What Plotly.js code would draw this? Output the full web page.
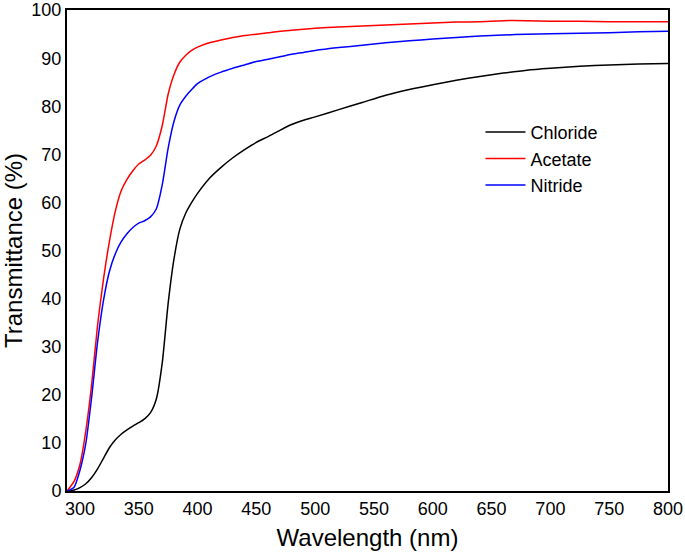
<!DOCTYPE html>
<html>
<head>
<meta charset="utf-8">
<script src="https://cdn.plot.ly/plotly-3.0.1.min.js"></script>
<style>html,body{margin:0;padding:0;background:#fff;}#chart{width:685px;height:552px;}</style>
</head>
<body>
<div id="chart"></div>
<script>
// Wavelength grid (nm)
const wavelength = [289, 295, 300, 305, 310, 315, 320, 325, 330, 335, 340, 345, 350, 355, 360, 365, 370, 375, 380, 385, 390, 395, 400, 410, 420, 430, 440, 450, 460, 470, 480, 490, 500, 520, 540, 560, 580, 600, 620, 640, 660, 680, 700, 725, 750, 775, 800];

// Transmittance (%)
const chloride = [0, 0.2, 0.7, 1.5, 2.8, 4.6, 6.8, 9.0, 10.6, 11.8, 12.7, 13.5, 14.2, 15.0, 16.3, 19.2, 26.7, 39.0, 48.3, 54.5, 57.8, 60.0, 61.9, 65.0, 67.3, 69.3, 71.0, 72.5, 73.7, 75.0, 76.2, 77.1, 77.8, 79.3, 80.8, 82.3, 83.5, 84.5, 85.4, 86.2, 86.9, 87.5, 87.9, 88.3, 88.6, 88.8, 88.9];
const acetate = [0, 2.0, 5.5, 12.5, 22.3, 34.5, 44.0, 51.8, 58.1, 62.4, 64.8, 66.6, 68.0, 68.8, 69.8, 71.8, 76.0, 82.5, 86.6, 89.2, 90.6, 91.6, 92.3, 93.2, 93.8, 94.3, 94.7, 95.0, 95.3, 95.6, 95.8, 96.0, 96.2, 96.5, 96.7, 96.9, 97.1, 97.3, 97.5, 97.6, 97.8, 97.8, 97.7, 97.7, 97.6, 97.6, 97.6];
const nitride = [0, 0.8, 4.3, 9.9, 19.6, 31.0, 39.6, 45.6, 49.3, 51.8, 53.5, 54.8, 55.7, 56.2, 57.0, 58.7, 63.7, 71.3, 76.9, 80.3, 82.1, 83.5, 84.7, 86.1, 87.1, 87.9, 88.6, 89.3, 89.8, 90.3, 90.8, 91.2, 91.6, 92.2, 92.7, 93.2, 93.6, 94.0, 94.3, 94.6, 94.8, 95.0, 95.1, 95.2, 95.3, 95.5, 95.6];

const xTicks = [300, 350, 400, 450, 500, 550, 600, 650, 700, 750, 800];
const yTicks = [0, 10, 20, 30, 40, 50, 60, 70, 80, 90, 100];

const names = ['Chloride', 'Acetate', 'Nitride'];
const colors = ['#000000', '#ff0000', '#0000ff'];
const series = [chloride, acetate, nitride];

const traces = series.map((s, i) => ({
  x: wavelength, y: s, name: names[i], type: 'scatter', mode: 'lines',
  line: {color: colors[i], width: 1.5, shape: 'spline', smoothing: 0.6}
}));

const FONT = 'Liberation Sans, Arial, sans-serif';
const layout = {
  width: 685, height: 552,
  margin: {l: 67, r: 17, t: 10, b: 61},
  paper_bgcolor: '#fff', plot_bgcolor: '#fff',
  font: {family: FONT, color: '#000', size: 18},
  showlegend: true,
  legend: {x: 0.688, y: 0.784, xanchor: 'left', yanchor: 'top', font: {size: 18, family: FONT, color: '#000'}, bgcolor: 'rgba(0,0,0,0)', itemwidth: 40, tracegroupgap: 0},
  xaxis: {
    range: [289, 800], tickvals: xTicks,
    showgrid: false, zeroline: false, showline: true, linecolor: '#000', linewidth: 2, mirror: true,
    ticks: '', tickfont: {size: 18, family: FONT}, automargin: false,
    title: {text: 'Wavelength (nm)', font: {size: 24, family: FONT}, standoff: 12}
  },
  yaxis: {
    range: [0, 100.02], tickvals: yTicks, ticklabeloverflow: 'allow',
    showgrid: false, zeroline: false, showline: true, linecolor: '#000', linewidth: 2, mirror: true,
    ticks: '', tickfont: {size: 18, family: FONT}, automargin: false,
    title: {text: 'Transmittance (%)', font: {size: 24, family: FONT}, standoff: 3}
  }
};

Plotly.newPlot('chart', traces, layout, {displayModeBar: false, staticPlot: true});
</script>
</body>
</html>
